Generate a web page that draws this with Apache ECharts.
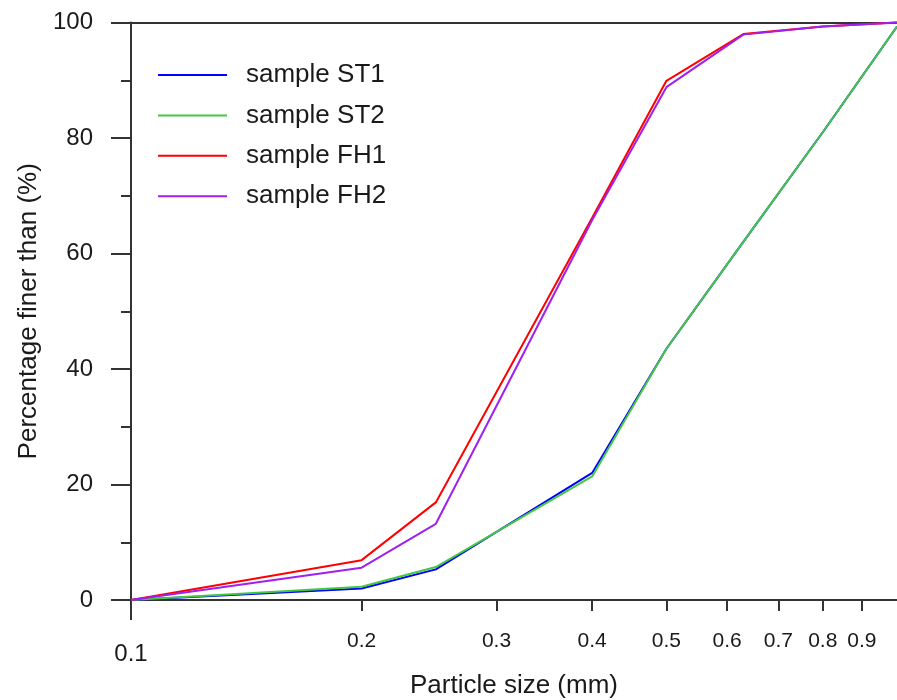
<!DOCTYPE html>
<html>
<head>
<meta charset="utf-8">
<script src="https://cdn.jsdelivr.net/npm/echarts@6/dist/echarts.min.js"></script>
<style>html,body{margin:0;padding:0;background:#fff}#c{width:897px;height:700px}</style>
</head>
<body>
<div id="c"></div>
<script>
// Data
var sizes = [0.1, 0.2, 0.25, 0.4, 0.5, 0.63, 0.8, 1.0];
var st1 = [0, 2.0, 5.3, 22.0, 43.5, 62.0, 81.0, 99.3];
var st2 = [0, 2.3, 5.7, 21.4, 43.5, 62.0, 81.0, 99.3];
var fh1 = [0, 6.9, 16.9, 66.2, 89.9, 98.0, 99.3, 100];
var fh2 = [0, 5.6, 13.2, 65.8, 88.8, 97.9, 99.3, 100];
var seriesNames = ['sample ST1', 'sample ST2', 'sample FH1', 'sample FH2'];
var minorTickValues = [0.2, 0.3, 0.4, 0.5, 0.6, 0.7, 0.8, 0.9];
var majorTickValues = [0.1];
var yTicks = [0, 20, 40, 60, 80, 100];

var colors = ['#0000ff', '#44c844', '#ff0000', '#a020f0'];
var FONT = 'Liberation Sans, Arial, Helvetica, sans-serif';
var AX = '#333333';

function pairs(ys) { return sizes.map(function (x, i) { return [x, ys[i]]; }); }
var allY = [st1, st2, fh1, fh2];

var chart = echarts.init(document.getElementById('c'), null, {renderer: 'canvas'});
chart.setOption({
  animation: false,
  backgroundColor: '#ffffff',
  grid: {left: 131, right: 0, top: 22.5, bottom: 100, containLabel: false, outerBoundsMode: 'none'},
  legend: {
    orient: 'vertical',
    left: 158,
    top: 62,
    padding: 0,
    itemWidth: 69,
    itemHeight: 2,
    itemGap: 14.4,
    icon: 'rect',
    data: seriesNames,
    textStyle: {fontFamily: FONT, fontSize: 26, color: '#1a1a1a', padding: [0, 0, 0, 14]}
  },
  xAxis: [
    {
      type: 'log', logBase: 10, min: 0.1, max: 1, position: 'bottom',
      name: 'Particle size (mm)', nameLocation: 'middle', nameGap: 73,
      nameTextStyle: {fontFamily: FONT, fontSize: 26, color: '#1a1a1a'},
      axisLine: {show: true, onZero: false, lineStyle: {color: AX, width: 2}},
      axisTick: {show: true, customValues: minorTickValues, length: 11, lineStyle: {color: AX, width: 2}},
      axisLabel: {show: true, customValues: minorTickValues, fontFamily: FONT, fontSize: 21, color: '#1a1a1a', margin: 31,
        formatter: function (v) { return String(Math.round(v * 10) / 10); }},
      splitLine: {show: false}, minorTick: {show: false}, minorSplitLine: {show: false}
    },
    {
      type: 'log', logBase: 10, min: 0.1, max: 1, position: 'bottom',
      axisLine: {show: false, onZero: false},
      axisTick: {show: true, customValues: majorTickValues, length: 20, lineStyle: {color: AX, width: 2}},
      axisLabel: {show: true, customValues: majorTickValues, fontFamily: FONT, fontSize: 24, color: '#1a1a1a', margin: 42,
        formatter: function (v) { return String(Math.round(v * 10) / 10); }},
      splitLine: {show: false}
    },
    {
      type: 'log', logBase: 10, min: 0.1, max: 1, position: 'top',
      axisLine: {show: true, onZero: false, lineStyle: {color: AX, width: 2}},
      axisTick: {show: false}, axisLabel: {show: false}, splitLine: {show: false}
    }
  ],
  yAxis: {
    type: 'value', min: 0, max: 100, interval: 20,
    name: 'Percentage finer than (%)', nameLocation: 'middle', nameGap: 86,
    nameTextStyle: {fontFamily: FONT, fontSize: 26, color: '#1a1a1a'},
    axisLine: {show: true, onZero: false, lineStyle: {color: AX, width: 2}},
    axisTick: {show: true, length: 20, lineStyle: {color: AX, width: 2}},
    minorTick: {show: true, splitNumber: 2, length: 10, lineStyle: {color: AX, width: 2}},
    axisLabel: {fontFamily: FONT, fontSize: 24, color: '#1a1a1a', margin: 38,
      formatter: function (v) { return yTicks.indexOf(v) >= 0 ? String(v) : ''; }},
    splitLine: {show: false}, minorSplitLine: {show: false}
  },
  series: seriesNames.map(function (n, i) {
    return {
      name: n, type: 'line', xAxisIndex: 0, yAxisIndex: 0,
      data: pairs(allY[i]), symbol: 'none', showSymbol: false,
      lineStyle: {color: colors[i], width: 2},
      itemStyle: {color: colors[i]},
      clip: false
    };
  })
});
</script>
</body>
</html>
